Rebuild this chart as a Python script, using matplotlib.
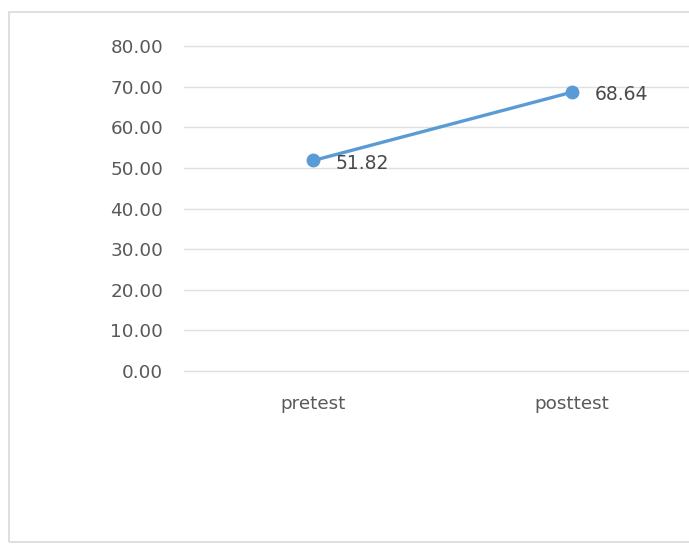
import matplotlib
matplotlib.use("Agg")
import matplotlib.pyplot as plt
from matplotlib.patches import Rectangle

categories = ["pretest", "posttest"]
values = [51.82, 68.64]
yticks = [0, 10, 20, 30, 40, 50, 60, 70, 80]

W, H = 689, 544
fig = plt.figure(figsize=(W / 100, H / 100), dpi=100)
fig.patch.set_facecolor("white")

# chart border
fig.add_artist(Rectangle((9 / W, 1 - 542 / H), (W + 20) / W, (542 - 12) / H,
                         transform=fig.transFigure, fill=False,
                         edgecolor="#d9d9d9", linewidth=1.2))

left, right = 184 / W, 701.5 / W
top, bottom = 1 - 46 / H, 1 - 371 / H
ax = fig.add_axes([left, bottom, right - left, top - bottom])
ax.set_xlim(-0.5, 1.5)
ax.set_ylim(0, 80)

font = "DejaVu Sans"
grey = "#595959"
for y in yticks:
    ax.axhline(y, color="#e0e0e0", linewidth=1.0, zorder=0, clip_on=False)
ax.set_yticks(yticks)
ax.set_yticklabels([f"{v:.2f}" for v in yticks], fontsize=13.2, color=grey, family=font)
ax.set_xticks(range(len(categories)))
ax.set_xticklabels(categories, fontsize=13.2, color=grey, family=font)
ax.tick_params(axis="y", length=0, pad=15)
ax.tick_params(axis="x", length=0, pad=17)
for s in ax.spines.values():
    s.set_visible(False)

x = list(range(len(categories)))
ax.plot(x, values, color="#5B9BD5", linewidth=2.4, marker="o", markersize=9,
        zorder=3, clip_on=False)
for xi, v in zip(x, values):
    ax.annotate(f"{v:.2f}", (xi, v), xytext=(16, -2), textcoords="offset points",
                ha="left", va="center", fontsize=13.5, color="#4a4a4a", family=font)

fig.savefig("out.png", dpi=100)
